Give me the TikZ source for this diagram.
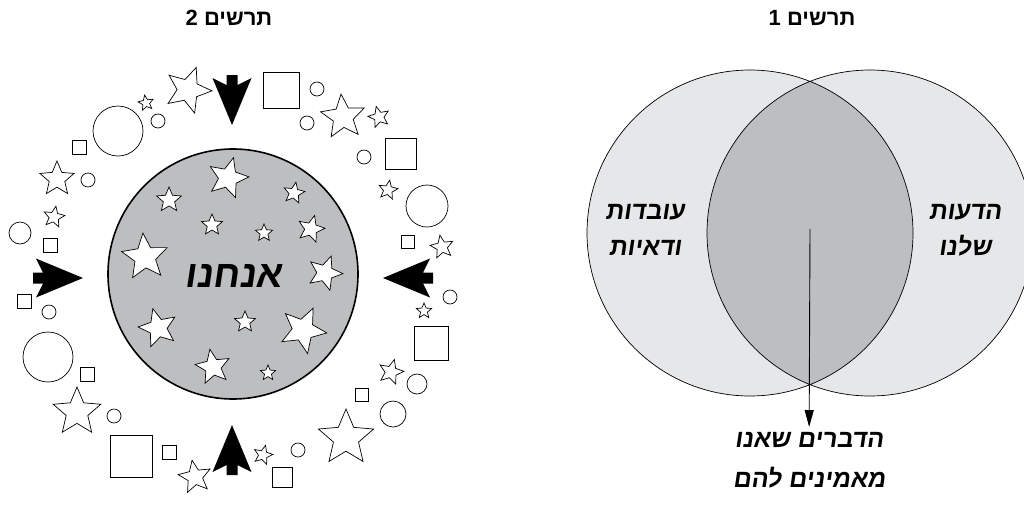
\documentclass[tikz,border=0pt]{standalone}
\usepackage{fontspec}
\usetikzlibrary{shapes.geometric,arrows.meta}
\newfontfamily\hebfont[Script=Hebrew]{Liberation Sans}
\newfontfamily\handfont[Script=Hebrew,FakeSlant=0.15]{Liberation Sans}
\TeXXeTstate=1
\definecolor{lightgrey}{RGB}{230,231,232}
\definecolor{midgrey}{RGB}{189,190,192}

\begin{document}
\begin{tikzpicture}[x=1pt, y=-1pt,
        ringstar/.style = {star, star points=5, star point ratio=2.2, draw, fill=white, line width=0.7pt, inner sep=0pt},
        ringdot/.style = {circle, draw, line width=0.7pt, inner sep=0pt},
        ringbox/.style = {rectangle, draw, line width=0.7pt, inner sep=0pt},
        heading/.style = {font=\hebfont\bfseries\fontsize{22}{24}\selectfont},
        hand/.style = {font=\handfont\bfseries\fontsize{25}{36}\selectfont, align=center},
        venn/.style = {circle, fill=lightgrey, minimum size=326pt, inner sep=0pt}
    ]
        \clip (0,0) rectangle (1024,504);
        % diagram 2
        \node[heading] (title2) at (229,18) {\beginR תרשים 2\endR};
        \node[circle, draw, line width=1.6pt, fill=midgrey, minimum size=250pt, inner sep=0pt] (us) at (233,274) {};
        \foreach \x/\y/\s/\a [count=\i] in {228/178/42/-15, 169/200/26/0, 294/193/22/-10, 212/225/22/0, 264/233/18/0, 311/229/28/-15, 145/257/48/5, 325/273/36/-20, 158/328/40/15, 245/322/22/0, 303/330/48/-25, 213/367/36/10, 268/373/16/0}
            \node[ringstar, minimum size=\s pt, rotate=\a] (instar\i) at (\x,\y) {};
        \node[font=\handfont\bfseries\fontsize{38}{40}\selectfont] (we) at (233,276) {\beginR אנחנו\endR};
        \foreach \x/\y/\s/\a [count=\i] in {188/90/48/-20, 146/103/16/10, 57/179/36/0, 54/217/22/-10, 77/412/50/0, 195/477/34/10, 263/455/20/-15, 346/438/58/0, 391/372/26/-15, 424/311/16/0, 442/247/24/10, 388/190/20/-10, 379/117/22/15, 343/117/46/5}
            \node[ringstar, minimum size=\s pt, rotate=\a] (outstar\i) at (\x,\y) {};
        \foreach \x/\y/\s [count=\i] in {158/121/14, 118/131/50, 88/180/14, 20/233/22, 49/312/14, 48/357/50, 114/416/14, 298/450/14, 393/414/26, 417/384/20, 450/297/14, 427/206/42, 364/157/14, 307/123/14, 317/89/14}
            \node[ringdot, minimum size=\s pt] (dot\i) at (\x,\y) {};
        \foreach \x/\y/\s [count=\i] in {79/147/14, 50/245/14, 24/301/14, 87/374/14, 131/456/42, 169/452/14, 282/477/20, 362/395/13, 431/343/34, 408/242/13, 401/154/31, 281/90/36}
            \node[ringbox, minimum size=\s pt] (box\i) at (\x,\y) {};
        \foreach \x/\y/\a in {232/125/-90, 232/425/90, 83/278/0, 383/278/180}
            \fill[shift={(\x,\y)}, rotate=\a] (0,0) -- (-47,19.5) -- (-40,5.5) -- (-50,5.5) -- (-50,-5.5) -- (-40,-5.5) -- (-47,-19.5) -- cycle;
        % diagram 1
        \node[heading] (title1) at (812,18) {\beginR תרשים 1\endR};
        \node[venn] (facts) at (750,233) {};
        \node[venn] (opinions) at (870,233) {};
        \begin{scope}
            \clip (facts.center) circle (163pt);
            \fill[midgrey] (opinions.center) circle (163pt);
        \end{scope}
        \draw[line width=0.7pt] (facts.center) circle (163pt) (opinions.center) circle (163pt);
        \node[hand] (factlabel) at (645,230) {\beginR עובדות\endR\\\beginR ודאיות\endR};
        \node[hand] (opinionlabel) at (965,230) {\beginR הדעות\endR\\\beginR שלנו\endR};
        \coordinate (core) at (810,229);
        \node[hand, anchor=north, text depth=0pt, inner ysep=5pt] (belief) at (809,427) {\beginR הדברים שאנו\endR\\[4pt]\beginR מאמינים להם\endR};
        \draw[line width=0.9pt, -{Triangle[length=17pt,width=9pt]}] (core) -- (belief);
    \end{tikzpicture}
\end{document}
